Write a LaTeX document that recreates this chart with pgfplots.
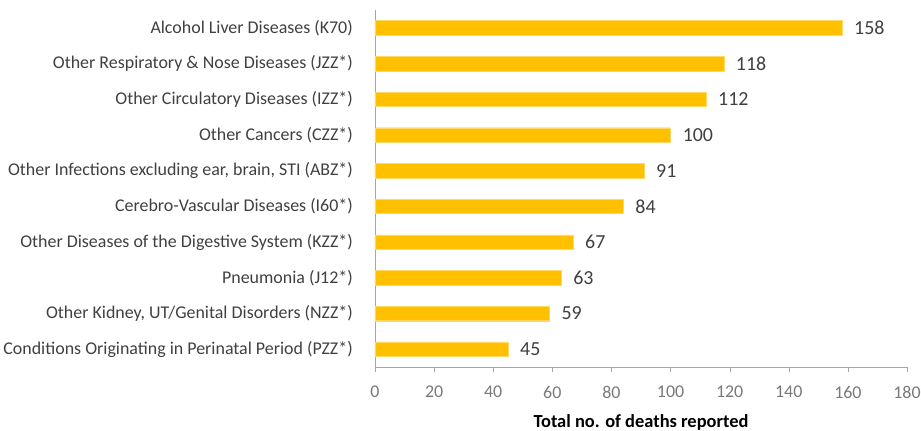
\documentclass[border=0pt]{standalone}
\usepackage{pgfplots}
\pgfplotsset{compat=1.18}
\usepackage{fontspec}
\setmainfont{Carlito}
\definecolor{bargold}{HTML}{FFC000}
\definecolor{axgray}{HTML}{A6A6A6}
\definecolor{txtgray}{HTML}{404040}
\begin{document}
\begin{tikzpicture}
\begin{axis}[
  at={(0,0)}, anchor=south west,
  scale only axis,
  width=532bp, height=357bp,
  xbar, bar width=14.5bp,
  y dir=reverse,
  xmin=0, xmax=180,
  ymin=-0.5, ymax=9.5,
  axis x line=bottom, axis y line=left,
  axis line style={draw=axgray, -},
  xtick={0,20,...,180},
  ytick={0,...,9},
  minor ytick={-0.5,0.5,...,9.5},
  tick align=outside,
  major tick length=5bp,
  minor tick length=5bp,
  ytick style={draw=none},
  minor tick style={draw=axgray},
  xtick style={draw=axgray},
  yticklabels={
    Alcohol Liver Diseases (K70),
    Other Respiratory \& Nose Diseases (JZZ*),
    Other Circulatory Diseases (IZZ*),
    Other Cancers (CZZ*),
    {Other Infections excluding ear, brain, STI (ABZ*)},
    Cerebro-Vascular Diseases (I60*),
    Other Diseases of the Digestive System (KZZ*),
    Pneumonia (J12*),
    {Other Kidney, UT/Genital Disorders (NZZ*)},
    Conditions Originating in Perinatal Period (PZZ*)
  },
  yticklabel style={font=\fontsize{18}{21}\selectfont, text=txtgray, inner sep=0pt, anchor=east, xshift=-17bp},
  xticklabel style={font=\fontsize{18}{21}\selectfont, text=txtgray!70, inner sep=0pt, anchor=north, yshift=-14bp},
  /pgf/number format/assume math mode=true,
  xlabel={\textbf{Total no. of deaths reported}},
  xlabel style={font=\fontsize{18.5}{21}\selectfont, text=black, inner sep=0pt, anchor=north, at={(axis description cs:0.5,0)}, yshift=-47bp},
  nodes near coords,
  nodes near coords style={font=\fontsize{20}{23}\selectfont, text=txtgray, inner sep=0pt, anchor=west, xshift=12bp},
  clip=false,
]
\addplot[fill=bargold, draw=bargold!60!white] coordinates {
  (158,0) (118,1) (112,2) (100,3) (91,4) (84,5) (67,6) (63,7) (59,8) (45,9)
};
\end{axis}
\path[use as bounding box] (-375bp,-64bp) rectangle (546bp,367bp);
\end{tikzpicture}
\end{document}
